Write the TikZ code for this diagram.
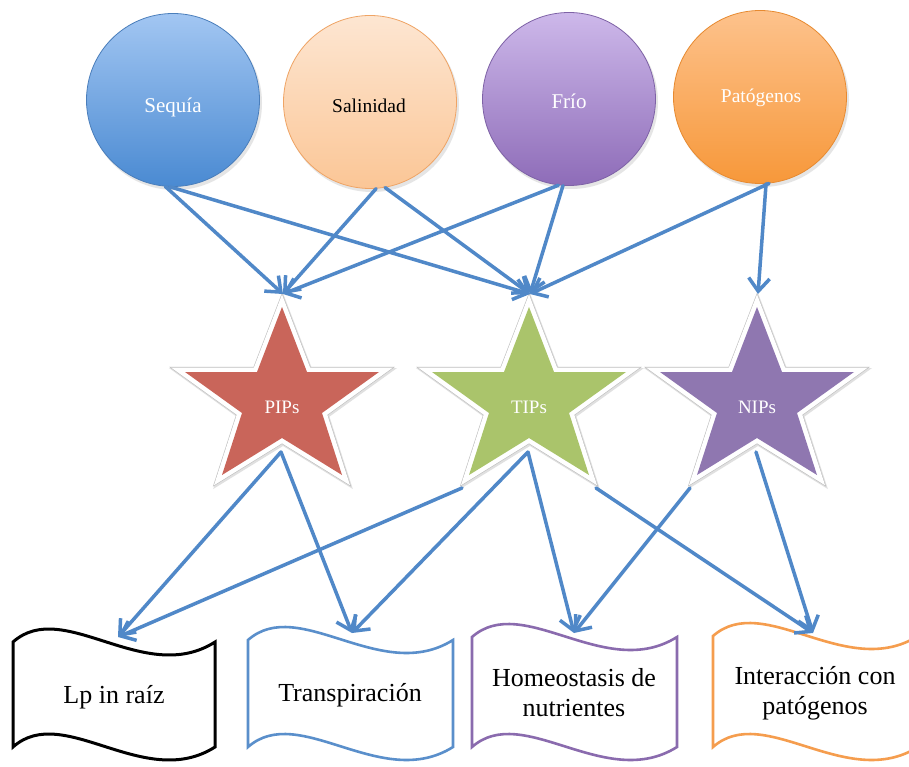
\documentclass[tikz,border=0pt]{standalone}
\usepackage{fontspec}
\setmainfont{Liberation Serif}
\usetikzlibrary{arrows.meta,calc}
\definecolor{seqT}{HTML}{A2C6F2}
\definecolor{seqD}{HTML}{4A8AD2}
\definecolor{seqL}{HTML}{4A7EBB}
\definecolor{salT}{HTML}{FDE6D2}
\definecolor{salD}{HTML}{FBC696}
\definecolor{salL}{HTML}{EFA465}
\definecolor{friT}{HTML}{CDB8EA}
\definecolor{friD}{HTML}{8E6CB8}
\definecolor{friL}{HTML}{7E62A6}
\definecolor{patT}{HTML}{FDC28C}
\definecolor{patD}{HTML}{F7983A}
\definecolor{patL}{HTML}{E78A30}
\definecolor{pipC}{HTML}{C9655A}
\definecolor{tipC}{HTML}{AAC46B}
\definecolor{nipC}{HTML}{8F77B0}
\definecolor{arrC}{HTML}{5088C8}
\definecolor{trC}{HTML}{5A8FCB}
\definecolor{hoC}{HTML}{8A6BAE}
\definecolor{inC}{HTML}{F59D4E}
\newcommand{\starpoly}{(0,307) -- (25,372) -- (97,372) -- (40,413) -- (60,475) -- (0,438) -- (-60,475) -- (-40,413) -- (-97,372) -- (-25,372) -- cycle}
\newcommand{\bannerpath}[4]{(#1,#2) .. controls ({#1+0.25*#3},{#2-45}) and ({#1+0.65*#3},{#2+45}) .. ({#1+#3},#2) -- ({#1+#3},{#2+#4}) .. controls ({#1+0.65*#3},{#2+#4+45}) and ({#1+0.25*#3},{#2+#4-45}) .. (#1,{#2+#4}) -- cycle}
\tikzset{
  circ/.style={circle, minimum size=173pt, inner sep=0pt, line width=0.8pt},
  circtxt/.style={inner sep=0pt},
  startxt/.style={text=white, font=\fontsize{19}{22}\selectfont, inner sep=0pt},
  bantxt/.style={text=black, align=center, font=\fontsize{26}{30}\selectfont, inner sep=0pt},
  arr/.style={draw=arrC, line width=3.5pt, line cap=round, -{Straight Barb[length=13pt,width=21pt]}},
  starout/.style={line width=9pt, line join=miter, miter limit=10},
}
\newcommand{\drawstar}[4]{%
  \begin{scope}[shift={(#1,0)}]
    \draw[black!12, starout, line width=11pt, shift={(1,1.5)}] \starpoly;
    \draw[black!25, starout, line width=10.2pt] \starpoly;
    \draw[white, starout] \starpoly;
    \fill[#2] \starpoly;
    \node[startxt] (#3) at (0,407) {#4};
    \coordinate (#3T) at (1,294);
    \coordinate (#3B) at (-1,452);
    \coordinate (#3BL) at (-67,488);
    \coordinate (#3BR) at (67,488);
  \end{scope}}
\begin{document}
\begin{tikzpicture}[x=1pt,y=-1pt]
\useasboundingbox (0,0) rectangle (909,767);
\fill[white] (0,0) rectangle (909,767);

% circle shadows
\foreach \cx/\cy in {173/100, 370/102, 569/99, 760/97}
  \fill[black!10] (\cx+2,\cy+3) circle (87pt);

% stressor circles
\node[circ, draw=seqL, top color=seqT, bottom color=seqD] (seq) at (173,100) {};
\node[circ, draw=salL, top color=salT, bottom color=salD] (sal) at (370,102) {};
\node[circ, draw=friL, top color=friT, bottom color=friD] (fri) at (569,99) {};
\node[circ, draw=patL, top color=patT, bottom color=patD] (pat) at (760,97) {};
\node[circtxt, text=white, font=\fontsize{21}{24}\selectfont] (seqlbl) at (173,107) {Sequía};
\node[circtxt, text=black, font=\fontsize{19.5}{22}\selectfont] (sallbl) at (369,106) {Salinidad};
\node[circtxt, text=white, font=\fontsize{21}{24}\selectfont] (frilbl) at (569,101) {Frío};
\node[circtxt, text=white, font=\fontsize{19.5}{22}\selectfont] (patlbl) at (761,98) {Patógenos};

% stars
\drawstar{282}{pipC}{pip}{PIPs}
\drawstar{529}{tipC}{tip}{TIPs}
\drawstar{757}{nipC}{nip}{NIPs}

% banners
\draw[black, line width=3pt] \bannerpath{13}{642}{202}{105};
\draw[trC, line width=2.6pt] \bannerpath{248}{640}{205}{107};
\draw[hoC, line width=2.6pt] \bannerpath{472}{637}{205}{110};
\draw[inC, line width=2.6pt] \bannerpath{713}{636}{205}{111};

\node[bantxt] (lp) at (114,697) {Lp in raíz};
\node[bantxt] (tr) at (350,695) {Transpiración};
\node[bantxt] (ho) at (574,693) {Homeostasis de\\nutrientes};
\node[bantxt] (in) at (815,693) {Interacción con\\patógenos};

\coordinate (lpT) at (118,637);
\coordinate (trT) at (352,633);
\coordinate (hoT) at (574,633);
\coordinate (inT) at (813,633);

% arrows stressors -> aquaporins
\draw[arr] (seq.-95) -- (pipT);
\draw[arr] (seq.-92) -- (tipT);
\draw[arr] (sal.-86) -- (pipT);
\draw[arr] (sal.-80) -- (tipT);
\draw[arr] (fri.-97) -- (pipT);
\draw[arr] (fri.-94) -- (tipT);
\draw[arr] (pat.-84) -- (tipT);
\draw[arr] (pat.-86) -- (nipT);

% arrows aquaporins -> functions
\draw[arr] (pipB) -- (lpT);
\draw[arr] (pipB) -- (trT);
\draw[arr] (tipBL) -- (lpT);
\draw[arr] (tipB) -- (trT);
\draw[arr] (tipB) -- (hoT);
\draw[arr] (tipBR) -- (inT);
\draw[arr] (nipBL) -- (hoT);
\draw[arr] (nipB) -- (inT);
\end{tikzpicture}
\end{document}
